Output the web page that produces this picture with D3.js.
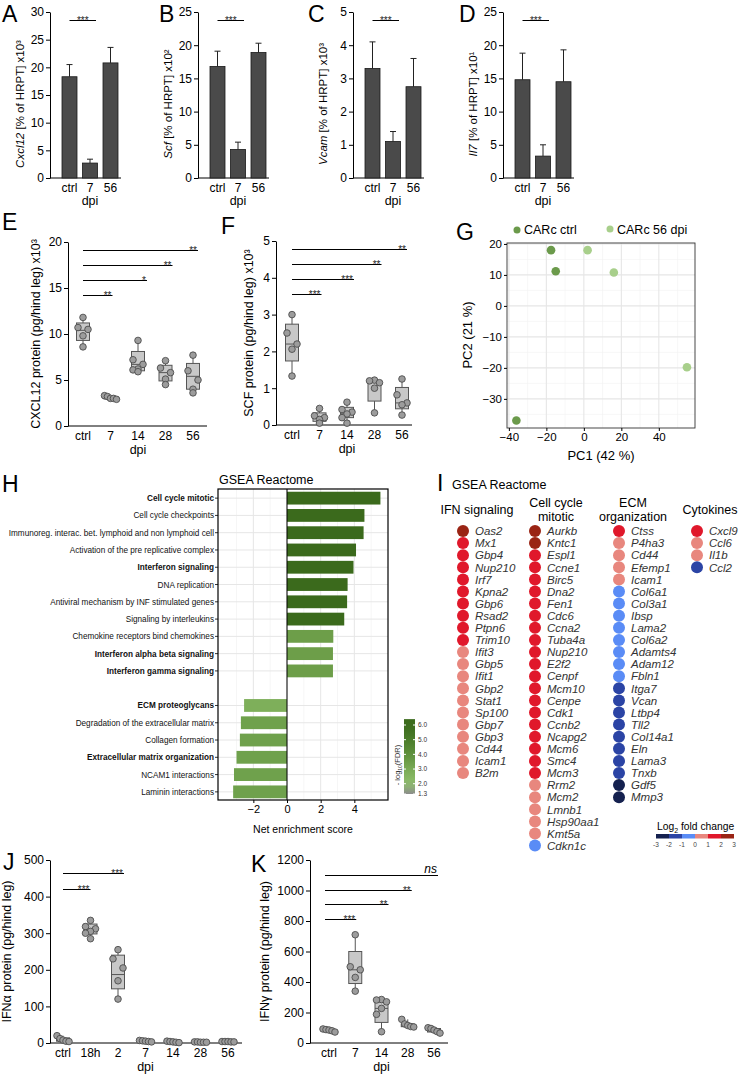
<!DOCTYPE html>
<html><head><meta charset="utf-8">
<script src="https://cdn.jsdelivr.net/npm/d3@7"></script>
<style>
body{margin:0;background:#fff}
svg{font-family:"Liberation Sans",Arial,Helvetica,sans-serif}
</style></head><body>
<svg id="fig" width="738" height="1079"></svg>
<script>
// ---- data ----
const qpcrCats = ["ctrl", "7", "56"]
const cxcl12Mean = [18.3, 2.7, 20.8]
const cxcl12Err = [2.2, 0.7, 2.8]
const scfMean = [16.8, 4.3, 18.9]
const scfErr = [2.3, 1.1, 1.4]
const vcamMean = [3.3, 1.1, 2.75]
const vcamErr = [0.8, 0.3, 0.85]
const il7Mean = [14.8, 3.3, 14.5]
const il7Err = [4.0, 1.7, 4.8]

const elisaCats = ["ctrl", "7", "14", "28", "56"]
// boxes are [min, q1, median, q3, max]
const cxclProtPts = [[11.8, 10.7, 10.5, 9.8, 8.6], [3.3, 3.2, 3.0, 2.9, 3.0], [9.3, 7.2, 6.7, 6.2, 6.1, 5.9], [7.1, 6.3, 5.8, 5.1, 4.5], [7.7, 6.0, 5.0, 4.0, 3.6]]
const cxclProtBox = [[8.6, 9.3, 10.4, 11.2, 11.8], [2.9, 2.95, 3.0, 3.2, 3.3], [5.9, 6.0, 6.7, 8.1, 9.3], [4.5, 4.9, 5.8, 6.6, 7.1], [3.6, 4.0, 5.4, 6.8, 7.7]]
const scfProtPts = [[3.0, 2.5, 2.2, 2.06, 1.33], [0.45, 0.25, 0.2, 0.15, 0.05], [0.62, 0.42, 0.35, 0.3, 0.2, 0.05], [1.22, 1.2, 1.15, 1.0, 0.33], [1.25, 0.82, 0.6, 0.55, 0.27]]
const scfProtBox = [[1.33, 1.74, 2.2, 2.74, 3.0], [0.05, 0.1, 0.2, 0.33, 0.45], [0.05, 0.2, 0.32, 0.48, 0.62], [0.33, 0.65, 1.17, 1.2, 1.22], [0.27, 0.44, 0.6, 1.02, 1.25]]

const ifnaCats = ["ctrl", "18h", "2", "7", "14", "28", "56"]
const ifnaPts = [[20, 12, 8, 5, 4], [335, 318, 312, 305, 300, 285], [255, 230, 205, 170, 120], [7, 6, 5, 4, 3], [5, 4, 3, 2, 1], [3, 3, 2, 2, 2], [4, 4, 3, 3, 4]]
const ifnaBox = [[4, 5, 8, 14, 20], [285, 298, 310, 325, 335], [120, 148, 187, 240, 255], [3, 4, 5, 6, 7], [1, 2, 3, 4, 5], [2, 2, 2, 3, 3], [3, 3, 4, 4, 4]]
const ifngCats = ["ctrl", "7", "14", "28", "56"]
const ifngPts = [[92, 88, 85, 80, 72], [710, 500, 480, 430, 340], [285, 282, 270, 227, 188, 74], [155, 125, 115, 108, 105], [100, 95, 85, 75, 65]]
const ifngBox = [[72, 78, 84, 88, 92], [340, 390, 480, 600, 710], [74, 135, 227, 270, 285], [105, 107, 115, 125, 155], [65, 72, 85, 95, 100]]

const pcaCtrl = [[-17.5, 18], [-15, 11.2], [-36, -37]]
const pca56 = [[2, 18], [16, 10.8], [55, -19.8]]

const upTerms = ["Cell cycle mitotic", "Cell cycle checkpoints", "Immunoreg. interac. bet. lymphoid and non lymphoid cell", "Activation of the pre replicative complex", "Interferon signaling", "DNA replication", "Antiviral mechanism by INF stimulated genes", "Signaling by interleukins", "Chemokine receptors bind chemokines", "Interferon alpha beta signaling", "Interferon gamma signaling"]
const upNES = [5.55, 4.6, 4.55, 4.1, 3.95, 3.6, 3.57, 3.4, 2.75, 2.73, 2.73]
const upFDR = [6, 6, 6, 6, 6, 6, 6, 6, 3.5, 3.5, 3.5]
const downTerms = ["ECM proteoglycans", "Degradation of the extracellular matrix", "Collagen formation", "Extracellular matrix organization", "NCAM1 interactions", "Laminin interactions"]
const downNES = [-2.55, -2.74, -2.8, -3.0, -3.15, -3.2]
const downFDR = [2.8, 3.4, 3.4, 3.4, 3.4, 3.4]
const boldTerms = ["Cell cycle mitotic", "Interferon signaling", "Interferon alpha beta signaling", "Interferon gamma signaling", "ECM proteoglycans", "Extracellular matrix organization"]
const fdrTicks = [6.0, 5.0, 4.0, 3.0, 2.0, 1.3]

const ifnGenes = ["Oas2", "Mx1", "Gbp4", "Nup210", "Irf7", "Kpna2", "Gbp6", "Rsad2", "Ptpn6", "Trim10", "Ifit3", "Gbp5", "Ifit1", "Gbp2", "Stat1", "Sp100", "Gbp7", "Gbp3", "Cd44", "Icam1", "B2m"]
const ifnFC = [2.3, 1.6, 1.5, 1.4, 1.4, 1.3, 1.3, 1.2, 1.2, 1.1, 0.9, 0.8, 0.8, 0.7, 0.7, 0.6, 0.6, 0.5, 0.5, 0.4, 0.3]
const cycleGenes = ["Aurkb", "Kntc1", "Espl1", "Ccne1", "Birc5", "Dna2", "Fen1", "Cdc6", "Ccna2", "Tuba4a", "Nup210", "E2f2", "Cenpf", "Mcm10", "Cenpe", "Cdk1", "Ccnb2", "Ncapg2", "Mcm6", "Smc4", "Mcm3", "Rrm2", "Mcm2", "Lmnb1", "Hsp90aa1", "Kmt5a", "Cdkn1c"]
const cycleFC = [2.2, 2.1, 1.9, 1.8, 1.8, 1.7, 1.6, 1.6, 1.5, 1.5, 1.4, 1.4, 1.3, 1.3, 1.3, 1.2, 1.2, 1.1, 1.1, 1.1, 1.0, 0.9, 0.8, 0.6, 0.5, 0.4, -0.6]
const ecmGenes = ["Ctss", "P4ha3", "Cd44", "Efemp1", "Icam1", "Col6a1", "Col3a1", "Ibsp", "Lama2", "Col6a2", "Adamts4", "Adam12", "Fbln1", "Itga7", "Vcan", "Ltbp4", "Tll2", "Col14a1", "Eln", "Lama3", "Tnxb", "Gdf5", "Mmp3"]
const ecmFC = [1.2, 0.8, 0.6, 0.5, 0.4, -0.4, -0.5, -0.6, -0.6, -0.7, -0.8, -0.8, -0.9, -1.1, -1.2, -1.3, -1.4, -1.5, -1.6, -1.7, -1.8, -2.3, -2.5]
const cytoGenes = ["Cxcl9", "Ccl6", "Il1b", "Ccl2"]
const cytoFC = [1.5, 0.7, 0.5, -1.6]
const fcTicks = [-3, -2, -1, 0, 1, 2, 3]

// ---- drawing ----
const svg = d3.select("#fig")
const fmt = d3.format("~g")

function txt(x, y, s, size, anchor) {
  return svg.append("text").attr("x", x).attr("y", y).attr("font-size", size)
    .attr("text-anchor", anchor || "start").text(s)
}
function letter(s, x, y, size) { txt(x, y, s, size || 23) }
function ylab(x, y, parts, size) {
  const t = svg.append("text").attr("transform", `translate(${x},${y}) rotate(-90)`)
    .attr("text-anchor", "middle").attr("font-size", size)
  parts.forEach(p => t.append("tspan").attr("font-style", p.i ? "italic" : null).text(p.t))
}
function leftAxis(x, y, ticks, size) {
  const a = svg.append("g").attr("transform", `translate(${x},0)`)
    .call(d3.axisLeft(y).tickValues(ticks).tickFormat(fmt).tickSize(4).tickSizeOuter(0).tickPadding(2))
  a.attr("font-size", size).attr("font-family", null)
  a.selectAll("text").attr("fill", "#000")
  return a
}
function sigLine(x1, x2, y, s, centered) {
  y = Math.round(y) + 0.5
  svg.append("line").attr("x1", x1).attr("x2", x2).attr("y1", y).attr("y2", y).attr("stroke", "#000").attr("stroke-width", 1)
  if (s === "ns") txt(x2 - 1, y - 3, s, 12, "end").attr("font-style", "italic")
  else txt(centered ? (x1 + x2) / 2 : x2 - 1, y + 3, s, 10, centered ? "middle" : "end").attr("fill", "#222")
}

// bar panels A-D
function barPanel(ax, max, step, mean, err, label) {
  const y = d3.scaleLinear().domain([0, max]).range([178, 12])
  const x = d3.scalePoint().domain(qpcrCats).range([ax + 19.5, ax + 60.5])
  leftAxis(ax, y, d3.range(0, max + 0.001, step), 12)
  svg.append("line").attr("x1", ax).attr("x2", ax + 71).attr("y1", 178).attr("y2", 178).attr("stroke", "#000")
  qpcrCats.forEach((c, i) => {
    const cx = x(c)
    svg.append("line").attr("x1", cx).attr("x2", cx).attr("y1", y(mean[i])).attr("y2", y(mean[i] + err[i])).attr("stroke", "#222")
    svg.append("line").attr("x1", cx - 3).attr("x2", cx + 3).attr("y1", y(mean[i] + err[i])).attr("y2", y(mean[i] + err[i])).attr("stroke", "#222")
    svg.append("rect").attr("x", cx - 7.5).attr("y", y(mean[i])).attr("width", 15).attr("height", 178 - y(mean[i]))
      .attr("fill", "#4a4a4a").attr("stroke", "#1a1a1a").attr("stroke-width", 0.8)
    txt(cx, 192, c, 12, "middle")
  })
  txt(x("7"), 205, "dpi", 12.5, "middle")
  sigLine(x("ctrl"), x("7") + 6, 20, "***", true)
  ylab(ax - 26, 104, label, 11.5)
}
barPanel(50, 30, 5, cxcl12Mean, cxcl12Err, [{t: "Cxcl12", i: 1}, {t: " [% of HRPT] x10³"}])
barPanel(198, 25, 5, scfMean, scfErr, [{t: "Scf", i: 1}, {t: " [% of HRPT] x10²"}])
barPanel(353, 5, 1, vcamMean, vcamErr, [{t: "Vcam", i: 1}, {t: " [% of HRPT] x10³"}])
barPanel(503, 25, 5, il7Mean, il7Err, [{t: "Il7", i: 1}, {t: " [% of HRPT] x10¹"}])
letter("A", 2, 22, 23); letter("B", 159, 22, 23); letter("C", 308, 22, 23); letter("D", 459, 22, 23)

// box panels
function boxPanel(o) {
  const y = d3.scaleLinear().domain([0, o.max]).range([o.y0, o.y1])
  const x = d3.scalePoint().domain(o.cats).range(o.xr)
  leftAxis(o.ax, y, o.ticks, 12)
  svg.append("line").attr("x1", o.ax).attr("x2", o.xend).attr("y1", o.y0).attr("y2", o.y0).attr("stroke", "#000")
  o.cats.forEach((c, i) => {
    const [lo, q1, md, q3, hi] = o.box[i], cx = x(c)
    const g = svg.append("g")
    g.append("line").attr("x1", cx).attr("x2", cx).attr("y1", y(lo)).attr("y2", y(hi)).attr("stroke", "#555")
    g.append("rect").attr("x", cx - 6.5).attr("y", y(q3)).attr("width", 13).attr("height", Math.max(1, y(q1) - y(q3)))
      .attr("fill", "#c8c8c8").attr("stroke", "#555")
    g.append("line").attr("x1", cx - 6.5).attr("x2", cx + 6.5).attr("y1", y(md)).attr("y2", y(md)).attr("stroke", "#555")
    const pts = o.pts[i].slice().sort((a, b) => b - a), n = pts.length
    const tight = y(pts[n - 1]) - y(pts[0]) < 9
    pts.forEach((v, k) => {
      let dx = (k === 0 || k === n - 1) ? 0 : [-5, 5, 0][(k - 1) % 3]
      if (tight) dx = -6 + 12 * k / (n - 1)
      g.append("circle").attr("cx", cx + dx).attr("cy", y(v)).attr("r", 3.3)
        .attr("fill", "#9c9c9c").attr("stroke", "#4d4d4d").attr("stroke-width", 0.9)
    })
    txt(cx, o.y0 + 14, c, 12, "middle")
  })
  txt(x(o.dpiAt), o.y0 + 28, "dpi", 12.5, "middle")
  o.sigs.forEach(s => sigLine(x("ctrl") - (o.sx || 0), x(s[0]) + s[3], y(s[2]), s[1], false))
  ylab(o.ax - o.lx, (o.y0 + o.y1) / 2, o.label, 12.5)
}
boxPanel({ax: 68, max: 20, y0: 426, y1: 242, cats: elisaCats, xr: [83, 193], xend: 207, ticks: [0, 5, 10, 15, 20],
  box: cxclProtBox, pts: cxclProtPts, dpiAt: "14", lx: 28,
  sigs: [["56", "**", 19.1, 5], ["28", "**", 17.5, 7], ["14", "*", 15.9, 9], ["7", "**", 14.2, 2]],
  label: [{t: "CXCL12 protein (pg/hind leg) x10³"}]})
boxPanel({ax: 276, max: 5, y0: 425, y1: 241, cats: elisaCats, xr: [292, 402], xend: 412, ticks: [0, 1, 2, 3, 4, 5],
  box: scfProtBox, pts: scfProtPts, dpiAt: "14", lx: 23,
  sigs: [["56", "**", 4.78, 5], ["28", "**", 4.375, 7], ["14", "***", 3.97, 7], ["7", "***", 3.56, 2]],
  label: [{t: "SCF protein (pg/hind leg) x10³"}]})
letter("E", 2, 230); letter("F", 221, 234)

boxPanel({ax: 50, max: 500, y0: 1043, y1: 860, cats: ifnaCats, xr: [63, 228], xend: 242, ticks: [0, 100, 200, 300, 400, 500],
  box: ifnaBox, pts: ifnaPts, dpiAt: "7", lx: 39,
  sigs: [["2", "***", 464, 6], ["18h", "***", 421, 0]],
  label: [{t: "IFNα protein (pg/hind leg)"}]})
boxPanel({ax: 310, max: 1200, y0: 1043, y1: 860, cats: ifngCats, xr: [329, 434], xend: 448, ticks: [0, 200, 400, 600, 800, 1000, 1200],
  box: ifngBox, pts: ifngPts, dpiAt: "14", lx: 41, sx: 4,
  sigs: [["56", "ns", 1102, 4], ["28", "**", 1003, 4], ["14", "**", 911, 7], ["7", "***", 813, 1]],
  label: [{t: "IFNγ protein (pg/hind leg)"}]})
letter("J", 3, 870); letter("K", 251, 872)

// G: PCA
{
  const x = d3.scaleLinear().domain([-41, 59.3]).range([507, 695])
  const y = d3.scaleLinear().domain([-39.4, 20.3]).range([428, 243])
  const g = svg.append("g")
  d3.range(-30, 60, 20).forEach(v => g.append("line").attr("x1", x(v)).attr("x2", x(v)).attr("y1", 243).attr("y2", 428).attr("stroke", "#f2f2f2").attr("stroke-width", 0.6))
  d3.range(-35, 20, 10).forEach(v => g.append("line").attr("y1", y(v)).attr("y2", y(v)).attr("x1", 507).attr("x2", 695).attr("stroke", "#f2f2f2").attr("stroke-width", 0.6))
  d3.range(-40, 60, 20).forEach(v => g.append("line").attr("x1", x(v)).attr("x2", x(v)).attr("y1", 243).attr("y2", 428).attr("stroke", "#e6e6e6").attr("stroke-width", 1.1))
  d3.range(-30, 21, 10).forEach(v => g.append("line").attr("y1", y(v)).attr("y2", y(v)).attr("x1", 507).attr("x2", 695).attr("stroke", "#e6e6e6").attr("stroke-width", 1.1))
  g.append("rect").attr("x", 507).attr("y", 243).attr("width", 188).attr("height", 185).attr("fill", "none").attr("stroke", "#333").attr("stroke-width", 0.9)
  const ax = g.append("g").attr("transform", "translate(507,0)").call(d3.axisLeft(y).tickValues(d3.range(-30, 21, 10)).tickSize(3).tickSizeOuter(0).tickPadding(2))
  ax.select(".domain").remove()
  ax.attr("font-size", 11.5).attr("font-family", null).selectAll("text").attr("fill", "#000")
  const bx = g.append("g").attr("transform", "translate(0,428)").call(d3.axisBottom(x).tickValues(d3.range(-40, 41, 20)).tickSize(3).tickSizeOuter(0).tickPadding(2))
  bx.select(".domain").remove()
  bx.attr("font-size", 11.5).attr("font-family", null).selectAll("text").attr("fill", "#000")
  g.selectAll("circle.c").data(pcaCtrl).enter().append("circle").attr("cx", d => x(d[0])).attr("cy", d => y(d[1])).attr("r", 4.3).attr("fill", "#6b9a4b")
  g.selectAll("circle.l").data(pca56).enter().append("circle").attr("cx", d => x(d[0])).attr("cy", d => y(d[1])).attr("r", 4.3).attr("fill", "#a8cf8b")
  txt(601, 460, "PC1 (42 %)", 13, "middle")
  ylab(472, 335, [{t: "PC2 (21 %)"}], 13)
  g.append("circle").attr("cx", 517).attr("cy", 230).attr("r", 3.5).attr("fill", "#6b9a4b")
  txt(524, 234, "CARc ctrl", 12.5)
  g.append("circle").attr("cx", 610).attr("cy", 229).attr("r", 3.5).attr("fill", "#a8cf8b")
  txt(617, 234, "CARc 56 dpi", 12.5)
  letter("G", 456, 240)
}

// H: GSEA bars
{
  const x = d3.scaleLinear().domain([-4.1, 6.0]).range([218, 388])
  const rows = d3.scaleBand().domain(d3.range(18)).range([489.5, 800.5])
  const fdrColor = d3.scaleLinear().domain([1.3, 2, 3, 4, 5, 6]).range(["#8c8c8c", "#8fbf6c", "#7aab56", "#5f913c", "#4b7d2a", "#3b6a1c"])
  const g = svg.append("g")
  d3.range(-3, 6, 2).forEach(v => g.append("line").attr("x1", x(v)).attr("x2", x(v)).attr("y1", 489).attr("y2", 800).attr("stroke", "#f0f0f0").attr("stroke-width", 0.6))
  d3.range(-2, 5, 2).forEach(v => g.append("line").attr("x1", x(v)).attr("x2", x(v)).attr("y1", 489).attr("y2", 800).attr("stroke", "#e6e6e6").attr("stroke-width", 1))
  const items = upTerms.map((t, i) => ({t, v: upNES[i], f: upFDR[i], r: i}))
    .concat(downTerms.map((t, i) => ({t, v: downNES[i], f: downFDR[i], r: 12 + i})))
  items.forEach(d => {
    const cy = rows(d.r) + rows.bandwidth() / 2
    g.append("line").attr("x1", 218).attr("x2", 388).attr("y1", cy).attr("y2", cy).attr("stroke", "#e6e6e6").attr("stroke-width", 1)
  })
  items.forEach(d => {
    const cy = rows(d.r) + rows.bandwidth() / 2
    g.append("rect").attr("x", x(Math.min(0, d.v))).attr("y", cy - 6.4).attr("width", Math.abs(x(d.v) - x(0))).attr("height", 12.8).attr("fill", fdrColor(d.f))
    g.append("line").attr("x1", 215).attr("x2", 218).attr("y1", cy).attr("y2", cy).attr("stroke", "#333")
    txt(214, cy + 3, d.t, 8.2, "end").attr("font-weight", boldTerms.includes(d.t) ? "bold" : null).attr("fill", "#111")
  })
  g.append("line").attr("x1", x(0)).attr("x2", x(0)).attr("y1", 489).attr("y2", 800).attr("stroke", "#000").attr("stroke-width", 1)
  g.append("rect").attr("x", 218).attr("y", 489).attr("width", 170).attr("height", 311).attr("fill", "none").attr("stroke", "#000").attr("stroke-width", 1.2)
  const bx = g.append("g").attr("transform", "translate(0,800)").call(d3.axisBottom(x).tickValues([-2, 0, 2, 4]).tickSize(3).tickSizeOuter(0).tickPadding(2))
  bx.select(".domain").remove()
  bx.attr("font-size", 11).attr("font-family", null).selectAll("text").attr("fill", "#000")
  txt(303, 833, "Net enrichment score", 10.5, "middle")
  txt(219, 484, "GSEA Reactome", 12.5)
  // colorbar
  const cy = d3.scaleLinear().domain([1.3, 6.0]).range([794, 725])
  const grad = svg.append("defs").append("linearGradient").attr("id", "fdrg").attr("x1", 0).attr("x2", 0).attr("y1", 1).attr("y2", 0)
  d3.range(1.3, 6.41, 0.5).forEach(v => grad.append("stop").attr("offset", (v - 1.3) / 5.1).attr("stop-color", fdrColor(Math.min(v, 6))))
  g.append("rect").attr("x", 404).attr("y", cy(6.4)).attr("width", 11).attr("height", cy(1.3) - cy(6.4)).attr("fill", "url(#fdrg)")
  fdrTicks.forEach(v => {
    g.append("line").attr("x1", 404).attr("x2", 406).attr("y1", cy(v)).attr("y2", cy(v)).attr("stroke", "#fff")
    g.append("line").attr("x1", 413).attr("x2", 415).attr("y1", cy(v)).attr("y2", cy(v)).attr("stroke", "#fff")
    txt(418, cy(v) + 2.3, v.toFixed(1), 6.5).attr("fill", "#333")
  })
  const t = svg.append("text").attr("transform", "translate(400,765) rotate(-90)").attr("text-anchor", "middle").attr("font-size", 7.5).attr("fill", "#333")
  t.append("tspan").text("- log")
  t.append("tspan").attr("font-size", 5).attr("dy", 2).text("10")
  t.append("tspan").attr("dy", -2).text("(FDR)")
  letter("H", 2, 492)
}

// I: gene lists
{
  const fcColor = d3.scaleThreshold().domain([-2, -1, 0, 1, 2]).range(["#15214f", "#2b44a5", "#5a8cf6", "#e8877e", "#e0182b", "#9a2414"])
  const rowY = i => 531 + 12.1 * i
  function col(genes, fc, dotX) {
    genes.forEach((gname, i) => {
      svg.append("circle").attr("cx", dotX).attr("cy", rowY(i)).attr("r", 6).attr("fill", fcColor(fc[i]))
      txt(dotX + 12, rowY(i) + 4.2, gname, 11.5).attr("font-style", "italic").attr("fill", "#333")
    })
  }
  col(ifnGenes, ifnFC, 463)
  col(cycleGenes, cycleFC, 535)
  col(ecmGenes, ecmFC, 619)
  col(cytoGenes, cytoFC, 697)
  txt(477, 514, "IFN signaling", 12.5, "middle")
  txt(556, 507, "Cell cycle", 12.5, "middle"); txt(556, 521, "mitotic", 12.5, "middle")
  txt(633, 507, "ECM", 12.5, "middle"); txt(633, 521, "organization", 12.5, "middle")
  txt(710, 514, "Cytokines", 12.5, "middle")
  txt(452, 489, "GSEA Reactome", 12.5)
  letter("I", 437, 491)
  // legend
  const lt = txt(657, 830, "Log", 10.3)
  lt.append("tspan").attr("font-size", 7).attr("dy", 3).text("2")
  lt.append("tspan").attr("dy", -3).text(" fold change")
  const lx = d3.scaleLinear().domain([-3, 3]).range([656, 734])
  d3.range(-3, 3).forEach(v => svg.append("rect").attr("x", lx(v)).attr("y", 834).attr("width", lx(v + 1) - lx(v)).attr("height", 4.5).attr("fill", fcColor(v + 0.5)))
  fcTicks.forEach(v => txt(lx(v), 847, v, 6.5, "middle").attr("fill", "#444"))
}
</script>
</body></html>
